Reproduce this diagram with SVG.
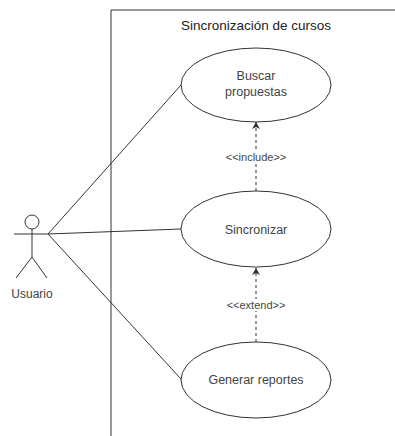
<svg xmlns="http://www.w3.org/2000/svg" width="395" height="436" viewBox="0 0 395 436">
<style>
.b{fill:none;stroke:#333;stroke-width:1}
.uc{fill:#fff;stroke:#333;stroke-width:1}
.t{font-family:"Liberation Sans",Arial,sans-serif;font-size:12.5px;fill:#444;text-anchor:middle}
.s{font-family:"Liberation Sans",Arial,sans-serif;font-size:11px;fill:#444;text-anchor:middle}
.d{fill:none;stroke:#333;stroke-width:1;stroke-dasharray:3 3}
</style>
<defs>
<marker id="ah" markerWidth="8" markerHeight="8" refX="7" refY="4" orient="auto" markerUnits="userSpaceOnUse">
<path d="M0,0 L7,4 L0,8 L2,4 Z" fill="#333"/>
</marker>
</defs>
<rect fill="#fff" width="395" height="436"/>
<g id="system">
<path class="b" d="M111,436 L111,10 L395,10"/>
<text class="t" x="256" y="30" style="font-size:13.5px;fill:#222">Sincronización de cursos</text>
</g>
<g id="connectors">
<line class="b" x1="48" y1="234" x2="181" y2="85"/>
<line class="b" x1="48" y1="234" x2="181" y2="229"/>
<line class="b" x1="48" y1="234" x2="181" y2="379"/>
<line class="d" x1="256" y1="191" x2="256" y2="122" marker-end="url(#ah)"/>
<line class="d" x1="256" y1="342" x2="256" y2="268" marker-end="url(#ah)"/>
<rect x="224" y="151" width="64" height="12" fill="#fff"/>
<text class="s" x="256" y="161">&lt;&lt;include&gt;&gt;</text>
<rect x="225" y="299" width="62" height="12" fill="#fff"/>
<text class="s" x="256" y="309">&lt;&lt;extend&gt;&gt;</text>
</g>
<g id="actor">
<circle class="b" cx="32" cy="222" r="7"/>
<line class="b" x1="32" y1="229" x2="32" y2="257"/>
<line class="b" x1="14" y1="234" x2="48" y2="234"/>
<line class="b" x1="32" y1="257" x2="16" y2="278"/>
<line class="b" x1="32" y1="257" x2="47" y2="278"/>
<text class="t" x="32" y="298" style="font-size:12px">Usuario</text>
</g>
<g id="uc1">
<ellipse class="uc" cx="256" cy="85" rx="75" ry="37"/>
<text class="t" x="256" y="80">Buscar</text>
<text class="t" x="256" y="96">propuestas</text>
</g>
<g id="uc2">
<ellipse class="uc" cx="256" cy="229" rx="75" ry="38"/>
<text class="t" x="256" y="234">Sincronizar</text>
</g>
<g id="uc3">
<ellipse class="uc" cx="256" cy="380" rx="75" ry="38"/>
<text class="t" x="256" y="384">Generar reportes</text>
</g>
</svg>
